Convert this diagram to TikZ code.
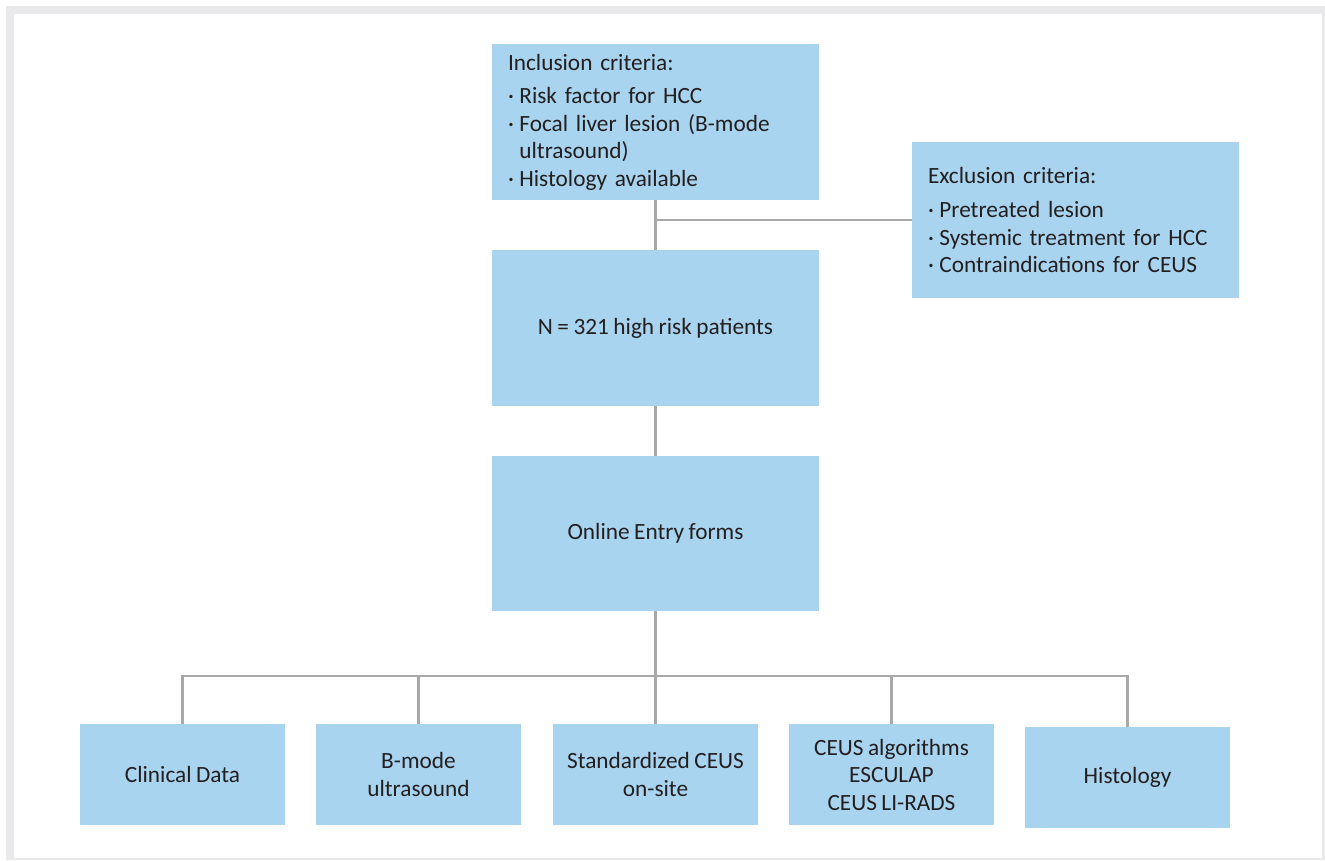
\documentclass[tikz,border=0pt]{standalone}
\usepackage{fontspec}
\setmainfont[WordSpace=0.85]{Carlito}
\definecolor{boxblue}{HTML}{A9D4EF}
\definecolor{linegray}{HTML}{A8A8AA}
\definecolor{framegray}{HTML}{E9E9EB}
\definecolor{txt}{HTML}{231F20}
\newcommand{\bul}{·\hspace{5.5pt}}
\tikzset{
  box/.style={rectangle, fill=boxblue, text=txt, inner sep=0pt,
    font=\fontsize{23.3}{27.5}\selectfont, align=center},
  bigbox/.style={box, minimum width=327pt, minimum height=156pt},
  listbox/.style={bigbox, align=left, text width=295pt},
  smallbox/.style={box, minimum width=205pt, minimum height=101pt},
  conn/.style={draw=linegray, line width=2.6pt},
}
\begin{document}
\begin{tikzpicture}[x=1pt,y=-1pt]
\useasboundingbox (0,0) rectangle (1325,860);
\fill[framegray] (6,6) rectangle (1325,860);
\fill[white] (14,14) rectangle (1322,858);

\node[listbox] (incl) at (655.5,122) {Inclusion criteria:\\[6pt]
\bul Risk factor for HCC\\
\bul Focal liver lesion (B-mode\\
\phantom{\bul}ultrasound)\\
\bul Histology available};
\node[listbox] (excl) at (1075.5,220) {Exclusion criteria:\\[7pt]
\bul Pretreated lesion\\
\bul Systemic treatment for HCC\\
\bul Contraindications for CEUS};
\node[bigbox] (n) at (655.5,328) {N = 321 high risk patients};
\node[bigbox, minimum height=155pt] (online) at (655.5,533.5) {Online Entry forms};

\node[smallbox] (clin) at (182.5,774.5) {Clinical Data};
\node[smallbox] (bmode) at (418.5,774.5) {B-mode\\ultrasound};
\node[smallbox] (std) at (655.5,774.5) {Standardized CEUS\\on-site};
\node[smallbox] (alg) at (891.5,774.5) {CEUS algorithms\\ESCULAP\\CEUS LI-RADS};
\node[smallbox] (hist) at (1127.5,777.5) {Histology};

\coordinate (ex) at (655.5,220);
\coordinate (bus) at (655.5,676);
\draw[conn] (incl.south) -- (n.north);
\draw[conn] (ex) -- (excl.west);
\draw[conn] (n.south) -- (online.north);
\draw[conn] (online.south) -- (bus);
\draw[conn] (clin.north) -- (clin.north |- bus) -- (hist.north |- bus) -- (hist.north);
\draw[conn] (bmode.north) -- (bmode.north |- bus);
\draw[conn] (std.north) -- (std.north |- bus);
\draw[conn] (alg.north) -- (alg.north |- bus);
\end{tikzpicture}
\end{document}
